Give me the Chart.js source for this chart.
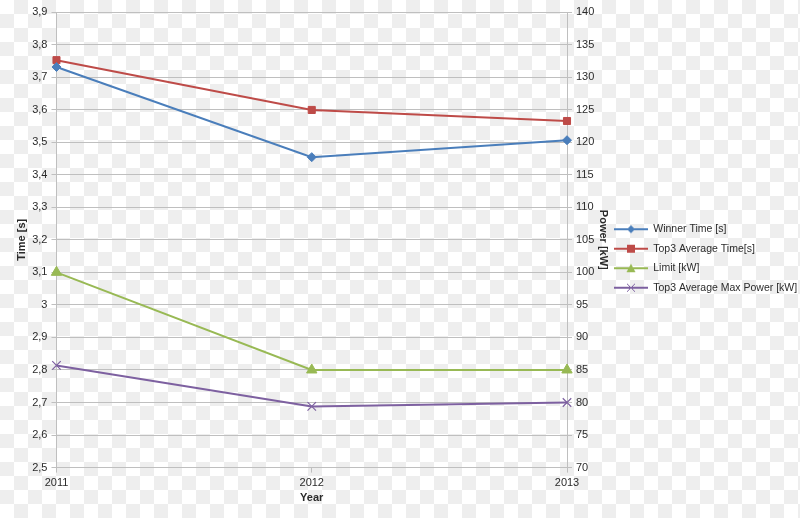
<!DOCTYPE html>
<html lang="en">
<head>
  <meta charset="UTF-8">
  <title>Time and Power</title>
  <style>
    html, body {
      margin: 0;
      padding: 0;
    }

    body {
      width: 800px;
      height: 518px;
      background-image: conic-gradient(#eeeeee 0 25%, #ffffff 0 50%, #eeeeee 0 75%, #ffffff 0);
      background-size: 28px 28px;
    }

    .chart-wrap {
      position: relative;
      width: 800px;
      height: 518px;
    }
  </style>
</head>
<body>
  <div class="chart-wrap">
    <canvas id="chart"></canvas>
  </div>

  <script src="https://cdn.jsdelivr.net/npm/chart.js"></script>
  <script>
    // Data
    const years = ['2011', '2012', '2013'];
    const winnerTime = [3.731, 3.454, 3.506];
    const top3AvgTime = [3.752, 3.599, 3.565];
    const limitKw = [100, 85, 85];
    const top3AvgMaxPower = [85.7, 79.4, 80.0];

    const fontFamily = "'Liberation Sans', 'DejaVu Sans', sans-serif";
    const gridColor = '#bfbfbf';
    const textColor = '#2b2b2b';

    // comma decimals like the original, "3" instead of "3,0"
    function commaTick(v) {
      return String(Math.round(v * 10) / 10).replace('.', ',');
    }

    // small legend swatch: line with the marker on it
    function swatch(color, style) {
      const c = document.createElement('canvas');
      c.width = 34;
      c.height = 12;
      const g = c.getContext('2d');
      g.strokeStyle = color;
      g.fillStyle = color;
      g.lineWidth = 2;
      g.beginPath();
      g.moveTo(0, 6);
      g.lineTo(34, 6);
      g.stroke();
      g.beginPath();
      if (style === 'rectRot') {
        g.moveTo(17, 2); g.lineTo(21, 6); g.lineTo(17, 10); g.lineTo(13, 6);
        g.closePath(); g.fill();
      } else if (style === 'rect') {
        g.fillRect(13, 2, 8, 8);
      } else if (style === 'triangle') {
        g.moveTo(17, 1.5); g.lineTo(21.5, 10); g.lineTo(12.5, 10);
        g.closePath(); g.fill();
      } else {
        g.lineWidth = 1;
        g.moveTo(13, 2); g.lineTo(21, 10);
        g.moveTo(21, 2); g.lineTo(13, 10);
        g.stroke();
      }
      return c;
    }

    const series = [
      { label: 'Winner Time [s]', data: winnerTime, color: '#4a7ebb', style: 'rectRot', radius: 4.5, axis: 'y' },
      { label: 'Top3 Average Time[s]', data: top3AvgTime, color: '#be4b48', style: 'rect', radius: 5, axis: 'y' },
      { label: 'Limit [kW]', data: limitKw, color: '#98b954', style: 'triangle', radius: 6, axis: 'y1' },
      { label: 'Top3 Average Max Power [kW]', data: top3AvgMaxPower, color: '#7d60a0', style: 'crossRot', radius: 6, axis: 'y1' }
    ];

    const ctx = document.getElementById('chart').getContext('2d');
    const chart = new Chart(ctx, {
      type: 'line',
      data: {
        labels: years,
        datasets: series.map(s => ({
          label: s.label,
          data: s.data,
          yAxisID: s.axis,
          borderColor: s.color,
          backgroundColor: s.color,
          borderWidth: 2,
          pointStyle: s.style,
          pointRadius: s.radius,
          pointBorderWidth: s.style === 'crossRot' ? 1.2 : 1,
          tension: 0,
          clip: false
        }))
      },
      options: {
        responsive: true,
        maintainAspectRatio: false,
        animation: false,
        layout: {
          padding: { top: 12, right: 0, bottom: 13, left: 9 }
        },
        plugins: {
          tooltip: { enabled: false },
          legend: {
            position: 'right',
            align: 'center',
            maxWidth: 195,
            labels: {
              usePointStyle: true,
              pointStyleWidth: 34,
              padding: 9,
              color: textColor,
              font: { family: fontFamily, size: 10.5 },
              generateLabels: () => series.map((s, i) => ({
                text: s.label,
                pointStyle: swatch(s.color, s.style),
                fontColor: textColor,
                datasetIndex: i,
                hidden: false,
                lineWidth: 0
              }))
            }
          }
        },
        scales: {
          x: {
            offset: false,
            grid: {
              drawOnChartArea: false,
              drawTicks: true,
              tickLength: 5,
              color: gridColor
            },
            border: { color: gridColor },
            ticks: {
              color: textColor,
              font: { family: fontFamily, size: 11 },
              padding: 4,
              maxRotation: 0
            },
            title: {
              display: true,
              text: 'Year',
              color: textColor,
              font: { family: fontFamily, size: 11, weight: 'bold' },
              padding: { top: -2, bottom: 0 }
            }
          },
          y: {
            position: 'left',
            min: 2.5,
            max: 3.9,
            grid: {
              color: gridColor,
              tickLength: 5
            },
            border: { color: gridColor },
            ticks: {
              stepSize: 0.1,
              color: textColor,
              font: { family: fontFamily, size: 11 },
              padding: 4,
              callback: v => commaTick(v)
            },
            title: {
              display: true,
              text: 'Time [s]',
              color: textColor,
              font: { family: fontFamily, size: 11, weight: 'bold' },
              padding: { top: 6, bottom: 0 }
            }
          },
          y1: {
            position: 'right',
            min: 70,
            max: 140,
            afterFit: scale => { scale.width = 38; },
            grid: {
              drawOnChartArea: false,
              color: gridColor,
              tickLength: 5
            },
            border: { color: gridColor },
            ticks: {
              stepSize: 5,
              color: textColor,
              font: { family: fontFamily, size: 11 },
              padding: 4
            },
            title: {
              display: true,
              text: 'Power [kW]',
              color: textColor,
              font: { family: fontFamily, size: 11, weight: 'bold' },
              padding: { top: -5, bottom: 0 }
            }
          }
        }
      }
    });
  </script>
</body>
</html>
